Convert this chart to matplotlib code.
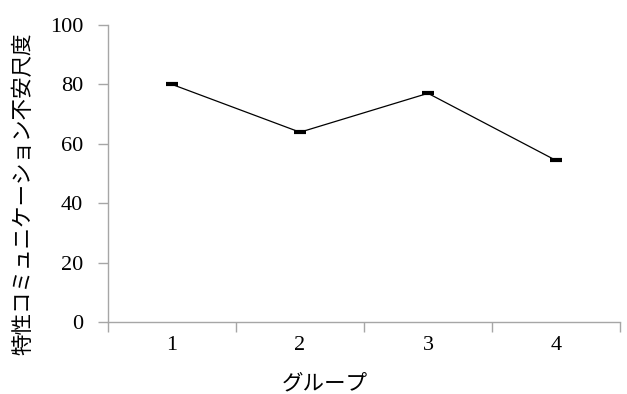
import matplotlib.pyplot as plt


GROUPS = ["1", "2", "3", "4"]
ANXIETY = [80.0, 63.9, 77.0, 54.4]
Y_TICKS = [0, 20, 40, 60, 80, 100]

AXIS_GRAY = "#a6a6a6"
TICK_FONT = "Liberation Serif"
LABEL_FONT = ["Noto Sans CJK JP", "DejaVu Sans"]


def main() -> None:
    fig = plt.figure(figsize=(6.27, 3.94), dpi=100)
    ax = fig.add_axes([108 / 627, 1 - 322 / 394, 512 / 627, 297 / 394])

    x = list(range(len(GROUPS)))
    ax.plot(
        x,
        ANXIETY,
        color="black",
        linewidth=0.9,
        marker="_",
        markersize=9,
        markeredgewidth=3,
    )

    ax.set_xlim(-0.5, len(GROUPS) - 0.5)
    ax.set_ylim(0, 100)

    # category axis: ticks sit between the groups, labels centred in each slot
    ax.set_xticks([i - 0.5 for i in range(len(GROUPS) + 1)])
    ax.set_xticklabels([])
    ax.set_xticks(x, minor=True)
    ax.set_xticklabels(GROUPS, minor=True, fontfamily=TICK_FONT, fontsize=16)
    ax.tick_params(axis="x", which="minor", length=0, pad=10)
    ax.tick_params(axis="x", which="major", length=7, color=AXIS_GRAY, width=1)

    ax.set_yticks(Y_TICKS)
    ax.set_yticklabels([str(v) for v in Y_TICKS], fontfamily=TICK_FONT, fontsize=16)
    ax.tick_params(axis="y", length=7, color=AXIS_GRAY, width=1, pad=11)

    for side in ["top", "right"]:
        ax.spines[side].set_visible(False)
    for side in ["left", "bottom"]:
        ax.spines[side].set_color(AXIS_GRAY)
        ax.spines[side].set_linewidth(1)

    fig.text(
        23 / 627,
        1 - 194 / 394,
        "特性コミュニケーション不安尺度",
        rotation=90,
        ha="center",
        va="center",
        fontsize=15.5,
        family=LABEL_FONT,
    )
    fig.text(
        325 / 627,
        1 - 383 / 394,
        "グループ",
        ha="center",
        va="center",
        fontsize=15.5,
        family=LABEL_FONT,
    )

    fig.savefig("out.png", dpi=100)
    plt.close(fig)


if __name__ == "__main__":
    main()
